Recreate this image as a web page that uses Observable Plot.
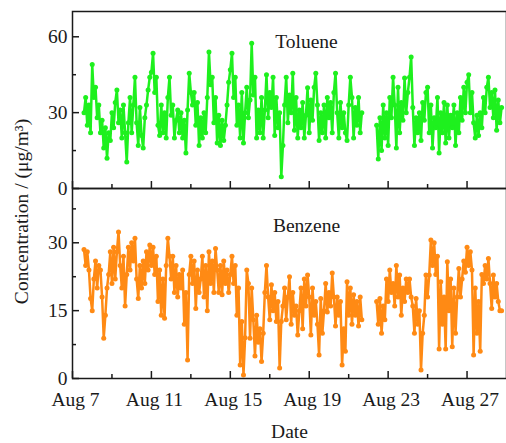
<!DOCTYPE html>
<html><head><meta charset="utf-8">
<script src="https://cdn.jsdelivr.net/npm/d3@7"></script>
<script src="https://cdn.jsdelivr.net/npm/@observablehq/plot@0.6"></script>
<style>
html,body{margin:0;padding:0;background:#fff;}
#chart{position:relative;width:506px;height:443px;overflow:hidden;background:#fff;}
#chart svg{position:absolute;left:0;top:0;}
</style></head><body><div id="chart"></div>
<script>
// ---- data ----
const seriesNames = ["Toluene", "Benzene"];
const seriesColors = ["#1ef01e", "#ff8a14"];
const startTime = "2013-08-07T14:00:00Z";
const stepHours = 2;
const toluene = [
 30,36,25,33,22,49,36,40,28,33,22,27,
 16,24,12,22,19,30,24,34,39,26,31,20,
 33,22,10.5,26,36,22,33,44,26,17,32,21,
 16,28,33,39,44,46,53.5,38,44,25,21,33,
 22,30,20,36,44,29,33,20,27,31,22,30,
 20,27,14,31,45.6,38,33,38,25,34,17,28,
 20,30,22,36,54,41,44,26,36,18,29,17,
 27,19,25,33,42,47,53.5,36,44,25,33,20,
 38,18,30,40,28,35,57.4,37,44,20,31,22,
 36,20,31,45,28,38,32,44,21,36,24,30,
 4.6,17,33,44,26,37,30,45.6,23,36,20,31,
 24,34,20,29,39.8,22,35,27,40,45.6,33,19,
 30,22,33,20,36,28,34,22,38,45.6,30,20,
 34,24,30,22,19,33,44,36,20,32,25,36,
 22,30,null,null,null,null,null,null,null,null,25,11.7,
 28,15,33,20,30,17,36,28,44,33,16,40,
 22,34,27,43.7,30,38,44,52,32,17,28,22,
 30,19,34,27,38,40,22,33,16,28,24,36,
 14,30,22,34,18,33,20,29,24,33,17,30,
 22,36,27,40,30,42,45,30,38,26,20,29,
 21,30,24,36,30,40,44,32,38,28,39,23,
 35,26,32
];
const benzene = [
 28.5,25,28,24,17.7,15,22,26,20,25,24,18,
 8.9,14,20,23,28,21,29,22,28,32.4,25,20,
 27,16,23,29,24,30,26,31,22,17.7,25,20,
 26,21,28,24,29.5,25,29,23,27,17,24,14,
 22,13.3,25,31,27,22,27,19,25,18,23,20,
 24,12,19,4.1,23,27,21,26,15.5,24,19,22,
 27,18,25,15,28,21,26,19,28.75,24,19,25,
 18.5,26,21,24,19,23,27,21,25,14,20,3,
 12.6,0.8,9,24,21,8.9,20,13,5,14,8,11,
 3.75,10,19,25,18,13,20.7,15,19,12.6,17,2.3,
 12.6,16,20,13,18,22.5,12,19,14,16,9.6,15,
 20,11,22,16,22.9,18,9.6,20,14,17,12,5.2,
 17.7,10,15,21,14.7,19,16,23.3,18,11.6,18,14,
 17,3,11,6,21.4,14,20,12,18.5,14,17,11.6,
 18,13,null,null,null,null,null,null,null,null,17,12,
 17.7,10,16,13,22,17,24,19,21,16,25,18,
 22.9,14,20,17,22,19,22,18,16,10,17.7,12,
 15,1.9,10,14,22.9,18,22.9,30.6,25,30,23,27,
 6.5,21.4,12,18,6.5,25.8,15,22,7,20,10,18,
 24.3,18,22,26,23.5,29,25,28,24,5.2,20,10,
 17,6,23,21,25,22,26.5,21,15.5,22.9,18,21,
 17,15,15
];
const xDomain = ["2013-08-07", "2013-08-29"];
const xMajorTicks = ["2013-08-07", "2013-08-11", "2013-08-15", "2013-08-19", "2013-08-23", "2013-08-27"];
const xMajorLabels = ["Aug 7", "Aug 11", "Aug 15", "Aug 19", "Aug 23", "Aug 27"];
const xMinorTicks = ["2013-08-09", "2013-08-13", "2013-08-17", "2013-08-21", "2013-08-25"];
const topYDomain = [0, 70], topYMajor = [0, 30, 60], topYMinor = [15, 45];
const botYDomain = [0, 42], botYMajor = [0, 15, 30], botYMinor = [7.5, 22.5, 37.5];
const xTitle = "Date";
const yTitle = "Concentration / (\u03BCg/m\u00B3)";

// ---- drawing ----
const W = 506, H = 443, ML = 72, MR = 0;
const FONT = "'Liberation Serif','Times New Roman',serif";
const FS = 19.5;
const ink = "#1a1a1a";
const t0 = new Date(startTime).getTime();
const toDate = s => new Date(s + "T00:00:00Z");
const majorData = xMajorTicks.map((s, i) => ({t: toDate(s), label: xMajorLabels[i]}));
const minorDates = xMinorTicks.map(toDate);

function panel({values, color, yDomain, yMajor, yMinor, top, bottom, name, nameDy, extra}) {
  const data = values.map((v, i) => ({t: new Date(t0 + i * stepHours * 3600e3), v}));
  const ph = H - top - bottom;
  const pw = W - ML - MR;
  return Plot.plot({
    width: W, height: H,
    marginLeft: ML, marginRight: MR, marginTop: top, marginBottom: bottom,
    style: {background: "transparent", fontFamily: FONT, overflow: "visible"},
    x: {type: "utc", domain: xDomain.map(toDate), axis: null},
    y: {domain: yDomain, axis: null},
    marks: [
      Plot.line(data, {x: "t", y: "v", stroke: color, strokeWidth: 2.5}),
      Plot.dot(data, {x: "t", y: "v", fill: color, r: 2.5, filter: d => d.v != null}),
      Plot.tickX(majorData, {x: "t", stroke: ink, strokeWidth: 1.5, insetTop: ph - 7}),
      Plot.tickX(minorDates, {x: d => d, stroke: ink, strokeWidth: 1.5, insetTop: ph - 4}),
      Plot.tickY(yMajor, {y: d => d, stroke: ink, strokeWidth: 1.5, insetRight: pw - 7}),
      Plot.tickY(yMinor, {y: d => d, stroke: ink, strokeWidth: 1.5, insetRight: pw - 4}),
      Plot.frame({stroke: ink, strokeWidth: 1.5}),
      Plot.text(yMajor, {y: d => d, text: d => String(d), frameAnchor: "left", textAnchor: "end", dx: -5, fontSize: FS, fill: ink}),
      Plot.text([name], {text: d => d, frameAnchor: "top", textAnchor: "middle", lineAnchor: "middle", dx: 17, dy: nameDy, fontSize: FS, fill: ink}),
      ...(extra || [])
    ]
  });
}

const topPlot = panel({values: toluene, color: seriesColors[0], yDomain: topYDomain, yMajor: topYMajor, yMinor: topYMinor,
  top: 11, bottom: H - 188, name: seriesNames[0], nameDy: 30});
const botPlot = panel({values: benzene, color: seriesColors[1], yDomain: botYDomain, yMajor: botYMajor, yMinor: botYMinor,
  top: 188, bottom: H - 378, name: seriesNames[1], nameDy: 37,
  extra: [
    Plot.text(majorData, {x: "t", text: "label", frameAnchor: "bottom", textAnchor: "middle", lineAnchor: "middle", dx: 3, dy: 21, fontSize: FS, fill: ink}),
    Plot.text([xTitle], {text: d => d, frameAnchor: "bottom", textAnchor: "middle", lineAnchor: "middle", dy: 53, fontSize: FS, fill: ink}),
    Plot.text([yTitle], {text: d => d, frameAnchor: "left", textAnchor: "middle", lineAnchor: "middle", rotate: -90, dx: -51, dy: -72, fontSize: FS, fill: ink})
  ]});
const chart = document.getElementById("chart");
chart.append(topPlot, botPlot);
</script></body></html>
